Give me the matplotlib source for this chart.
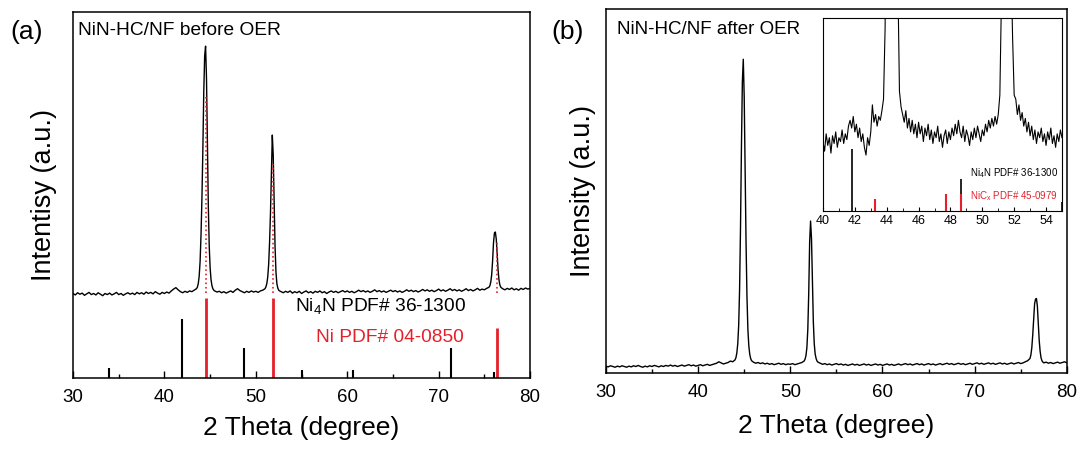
import numpy as np
import matplotlib.pyplot as plt
from matplotlib.ticker import MultipleLocator

plt.rcParams['font.family'] = ['Liberation Sans', 'DejaVu Sans']

# ---------------- (a) NiN-HC/NF before OER ----------------
a_x = np.concatenate([
    np.arange(30, 43.51, 0.25), np.arange(43.6, 45.41, 0.1),
    np.arange(45.5, 51.01, 0.25), np.arange(51.1, 52.61, 0.1),
    np.arange(52.75, 75.51, 0.25), np.arange(75.6, 76.91, 0.1),
    np.arange(77, 80.01, 0.25)])
a_y = [
    # 30.0 - 43.5
    231, 227, 233, 229, 232, 226, 230, 234, 228, 231,
    227, 233, 229, 225, 231, 228, 232, 227, 230, 234,
    228, 231, 226, 230, 233, 229, 232, 228, 234, 230,
    233, 229, 235, 231, 234, 230, 236, 232, 229, 234,
    231, 235, 232, 238, 243, 247, 241, 236, 233, 237,
    234, 238, 236, 240, 244,
    # 43.6 - 45.4
    248, 258, 278, 318, 390, 490, 620, 780, 880, 907,
    820, 640, 470, 360, 300, 268, 252, 244, 240,
    # 45.5 - 51.0
    238, 235, 237, 233, 236, 232, 235, 238, 234, 240,
    244, 239, 236, 233, 237, 234, 238, 235, 237, 234,
    238, 240, 244,
    # 51.1 - 52.6
    249, 258, 276, 310, 370, 450, 560, 664, 610, 480,
    360, 290, 258, 246, 240, 238,
    # 52.75 - 75.5
    236, 233, 237, 234, 238, 232, 236, 233, 237, 231,
    235, 238, 233, 236, 232, 237, 234, 238, 233, 236,
    231, 235, 238, 234, 237, 233, 236, 239, 235, 238,
    234, 237, 233, 236, 240, 236, 239, 235, 238, 234,
    237, 241, 236, 239, 235, 238, 234, 237, 240, 236,
    239, 235, 238, 234, 237, 241, 237, 240, 236, 239,
    235, 238, 242, 238, 241, 237, 240, 236, 239, 243,
    238, 241, 237, 240, 244, 239, 242, 238, 241, 237,
    240, 244, 239, 242, 238, 241, 245, 240, 243, 241,
    245, 248,
    # 75.6 - 76.9
    252, 262, 282, 320, 370, 396, 399, 380, 340, 295,
    268, 254, 248, 246,
    # 77.0 - 80.0
    244, 241, 245, 242, 246, 241, 244, 240, 245, 242,
    246, 243, 245]

ni4n_pos = [33.9, 41.9, 48.7, 55.1, 60.6, 71.4, 76.1]
ni4n_int = [27, 160, 83, 21, 21, 82, 16]
ni_pos = [44.5, 51.85, 76.37]
ni_int = [219, 219, 137]
ni_guide_top = [775, 585, 375]

# ---------------- (b) NiN-HC/NF after OER ----------------
b_x = np.concatenate([
    np.arange(30, 44.01, 0.25), np.arange(44.1, 45.81, 0.1),
    np.arange(46, 51.51, 0.25), np.arange(51.6, 53.01, 0.1),
    np.arange(53.25, 76.01, 0.25), np.arange(76.1, 77.41, 0.1),
    np.arange(77.5, 80.01, 0.25)])
b_y = [
    # 30.0 - 44.0
    19, 17, 20, 18, 16, 19, 17, 20, 18, 16,
    19, 17, 20, 18, 21, 18, 16, 19, 17, 20,
    18, 21, 19, 17, 20, 18, 21, 19, 22, 19,
    21, 18, 20, 22, 19, 21, 23, 20, 22, 19,
    21, 23, 20, 22, 24, 21, 23, 25, 27, 31,
    28, 25, 27, 29, 33, 31, 36,
    # 44.1 - 45.8
    42, 55, 80, 130, 230, 400, 620, 800, 863, 760,
    560, 360, 210, 120, 75, 52, 40, 34,
    # 46.0 - 51.5
    30, 27, 29, 26, 28, 25, 27, 24, 26, 23,
    25, 27, 24, 26, 23, 25, 24, 26, 23, 25,
    27, 29, 33,
    # 51.6 - 53.0
    38, 48, 70, 120, 220, 360, 418, 370, 250, 140,
    80, 52, 40, 33, 30,
    # 53.25 - 76.0
    27, 24, 26, 23, 25, 22, 24, 26, 23, 25,
    22, 24, 21, 23, 25, 22, 24, 21, 23, 25,
    22, 24, 21, 23, 25, 22, 24, 21, 23, 25,
    22, 24, 21, 23, 25, 22, 24, 26, 23, 25,
    22, 24, 26, 23, 25, 22, 24, 26, 23, 25,
    22, 24, 26, 23, 25, 27, 24, 26, 23, 25,
    27, 24, 26, 23, 25, 27, 24, 26, 28, 25,
    27, 24, 26, 28, 25, 27, 24, 26, 28, 25,
    27, 24, 26, 28, 25, 27, 29, 26, 28, 31,
    34, 40,
    # 76.1 - 77.4
    50, 70, 105, 150, 190, 203, 205, 185, 140, 90,
    60, 42, 34, 30,
    # 77.5 - 80.0
    28, 30, 27, 29, 26, 28, 30, 27, 29, 31, 28]

# inset: 40 - 55 degree, step 0.1
inset_x = np.linspace(40, 55, 151)
inset_y = [
    36, 31, 40, 34, 38, 30, 39, 35, 41, 33,
    38, 36, 42, 35, 40, 37, 44, 47, 43, 49,
    41, 45, 38, 43, 36, 40, 33, 29, 38, 34,
    41, 55, 46, 50, 44, 49, 47, 52, 58, 95,
    220, 400, 600, 700, 600, 400, 240, 120, 62, 54,
    50, 46, 52, 43, 48, 41, 47, 40, 45, 38,
    46, 40, 44, 36, 43, 39, 45, 37, 42, 35,
    41, 38, 44, 36, 40, 33, 39, 42, 35, 41,
    37, 43, 39, 45, 40, 47, 41, 38, 44, 36,
    42, 39, 34, 41, 37, 43, 38, 44, 40, 36,
    42, 39, 45, 41, 47, 43, 48, 44, 49, 45,
    50, 60, 110, 250, 420, 500, 420, 300, 130, 90,
    60, 58, 50, 55, 47, 51, 44, 48, 41, 46,
    39, 44, 37, 42, 35, 41, 38, 43, 36, 40,
    34, 41, 37, 43, 35, 39, 33, 40, 36, 42,
    38]
inset_ni4n_pos = [41.8, 48.65, 55.0]
inset_ni4n_int = [32, 16.5, 4.5]
inset_nicx_pos = [43.25, 47.7, 48.65]
inset_nicx_int = [6, 8.7, 8.7]

RED = '#e5202b'

fig = plt.figure(figsize=(10.82, 4.5), dpi=100)


def style_main(ax, xlab_y):
    ax.set_xlim(30, 80)
    ax.set_ylim(0, 1000)
    ax.set_yticks([])
    ax.xaxis.set_major_locator(MultipleLocator(10))
    ax.xaxis.set_minor_locator(MultipleLocator(5))
    ax.tick_params(axis='x', which='both', direction='in', labelsize=13.5, pad=8)
    ax.tick_params(axis='x', which='major', length=5, width=1)
    ax.tick_params(axis='x', which='minor', length=3, width=1)
    for s in ax.spines.values():
        s.set_linewidth(1.1)
    ax.set_xlabel('2 Theta (degree)', fontsize=19)
    ax.xaxis.set_label_coords(0.5, xlab_y)


# panel (a)
ax_a = fig.add_axes([0.0675, 0.16, 0.4224, 0.813])
ax_a.plot(a_x, a_y, color='black', lw=1.0)
ax_a.vlines(ni_pos, [a_y[0]] * 3, ni_guide_top, colors=RED, linestyles=':', lw=1.2, zorder=3)
ax_a.vlines(ni4n_pos, 0, ni4n_int, colors='black', lw=1.5)
ax_a.vlines(ni_pos, 0, ni_int, colors=RED, lw=2.0)
style_main(ax_a, -0.104)
ax_a.set_ylabel('Intentisy (a.u.)', fontsize=19.5)
ax_a.yaxis.set_label_coords(-0.036, 0.5)
ax_a.text(0.01, 0.95, 'NiN-HC/NF before OER', transform=ax_a.transAxes,
          fontsize=13.8, va='center', ha='left')
ax_a.text(54.3, 194, 'Ni$_\\mathregular{4}$N PDF# 36-1300', fontsize=13.8, va='center', ha='left')
ax_a.text(56.6, 112, 'Ni PDF# 04-0850', fontsize=13.8, va='center', ha='left', color=RED)
fig.text(0.0245, 0.929, '(a)', fontsize=19, va='center', ha='center')

# panel (b)
ax_b = fig.add_axes([0.560, 0.171, 0.426, 0.808])
ax_b.plot(b_x, b_y, color='black', lw=1.0)
style_main(ax_b, -0.113)
ax_b.set_ylabel('Intensity (a.u.)', fontsize=19.5)
ax_b.yaxis.set_label_coords(-0.021, 0.5)
ax_b.text(0.025, 0.946, 'NiN-HC/NF after OER', transform=ax_b.transAxes,
          fontsize=13.5, va='center', ha='left')
fig.text(0.5245, 0.929, '(b)', fontsize=19, va='center', ha='center')

# inset
ax_in = fig.add_axes([0.7606, 0.531, 0.2209, 0.429])
ax_in.plot(inset_x, inset_y, color='black', lw=0.8)
ax_in.vlines(inset_ni4n_pos, 0, inset_ni4n_int, colors='black', lw=1.2)
ax_in.vlines(inset_nicx_pos, 0, inset_nicx_int, colors=RED, lw=1.5)
ax_in.set_xlim(40, 55)
ax_in.set_ylim(0, 100)
ax_in.set_yticks([])
ax_in.xaxis.set_major_locator(MultipleLocator(2))
ax_in.xaxis.set_minor_locator(MultipleLocator(1))
ax_in.tick_params(axis='x', which='both', direction='in', labelsize=9, pad=3)
ax_in.tick_params(axis='x', which='major', length=3)
ax_in.tick_params(axis='x', which='minor', length=2)
ax_in.text(49.2, 19.8, 'Ni$_\\mathregular{4}$N PDF# 36-1300', fontsize=7, va='center', ha='left')
ax_in.text(49.2, 8, 'NiC$_\\mathregular{x}$ PDF# 45-0979', fontsize=7, va='center', ha='left', color=RED)

fig.savefig('out.png', dpi=100)
